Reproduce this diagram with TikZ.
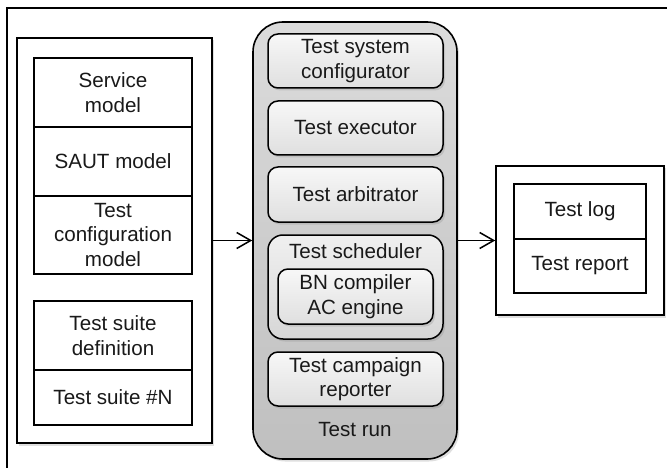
\documentclass[tikz,border=0pt]{standalone}
\usepackage{fontspec}
\setmainfont{Liberation Sans}
\usetikzlibrary{arrows.meta,shadows}
\begin{document}
\begin{tikzpicture}[x=1pt,y=-1pt,
  every node/.style={font=\fontsize{20.6}{24.5}\selectfont, text=black!90, align=center, inner sep=0pt},
  shad/.style={drop shadow={opacity=0.25, shadow xshift=2pt, shadow yshift=-2.5pt}},
  plainbox/.style={draw=black, line width=1.6pt, fill=white, shad},
  cell/.style={draw=black, line width=1.6pt, fill=white, minimum width=158pt},
  rcell/.style={draw=black, line width=1.6pt, fill=white, minimum width=132pt},
  runbox/.style={draw=black, line width=1.6pt, rounded corners=30pt, top color=gray!28, bottom color=gray!50, shad},
  comp/.style={draw=black, line width=1.5pt, rounded corners=10pt, top color=gray!6, bottom color=gray!25, minimum width=175pt, shad},
  arr/.style={line width=1.5pt, -{Straight Barb[length=14pt,width=16pt,line width=1.5pt]}}
]
\useasboundingbox (0,0) rectangle (667,468);
% outer frame (right and bottom edges lie outside the picture)
\draw[line width=2pt] (7,468) -- (7,8) -- (667,8);

% left group
\node[plainbox, minimum width=195pt, minimum height=405pt] (lgroup) at (114.5,240.5) {};
\node[cell, minimum height=69pt] (svc) at (113,92.5) {Service\\model};
\node[cell, minimum height=69pt] (saut) at (113,161.5) {SAUT model};
\node[cell, minimum height=78pt] (tcm) at (113,235) {Test\\configuration\\model};
\node[cell, minimum height=69pt] (tsd) at (113,335.5) {Test suite\\definition};
\node[cell, minimum height=55pt] (tsn) at (113,397.5) {Test suite \#N};

% test run
\node[runbox, minimum width=204pt, minimum height=437pt] (run) at (355,240.5) {};
\node[comp, minimum height=54pt] (tsc) at (355.5,61) {Test system\\configurator};
\node[comp, minimum height=54pt] (tex) at (355.5,128) {Test executor};
\node[comp, minimum height=55pt] (tarb) at (355.5,194.5) {Test arbitrator};
\node[comp, rounded corners=15pt, top color=gray!12, bottom color=gray!32, minimum height=104pt] (tsch) at (355.5,287) {};
\node (tschl) at (355.5,251) {Test scheduler};
\node[comp, minimum width=155pt, minimum height=55pt] (bn) at (355.5,296.5) {BN compiler\\AC engine};
\node[comp, minimum height=54pt] (tcr) at (355.5,379) {Test campaign\\reporter};
\node (runl) at (355,430) {Test run};

% right group
\node[plainbox, minimum width=168pt, minimum height=149pt] (rgroup) at (580,240.5) {};
\node[rcell, minimum height=55pt] (log) at (580,211.5) {Test log};
\node[rcell, minimum height=54pt] (rep) at (580,266) {Test report};

% connectors
\draw[arr] (lgroup.east) -- (run.west);
\draw[arr] (run.east) -- (rgroup.west);
\end{tikzpicture}
\end{document}
